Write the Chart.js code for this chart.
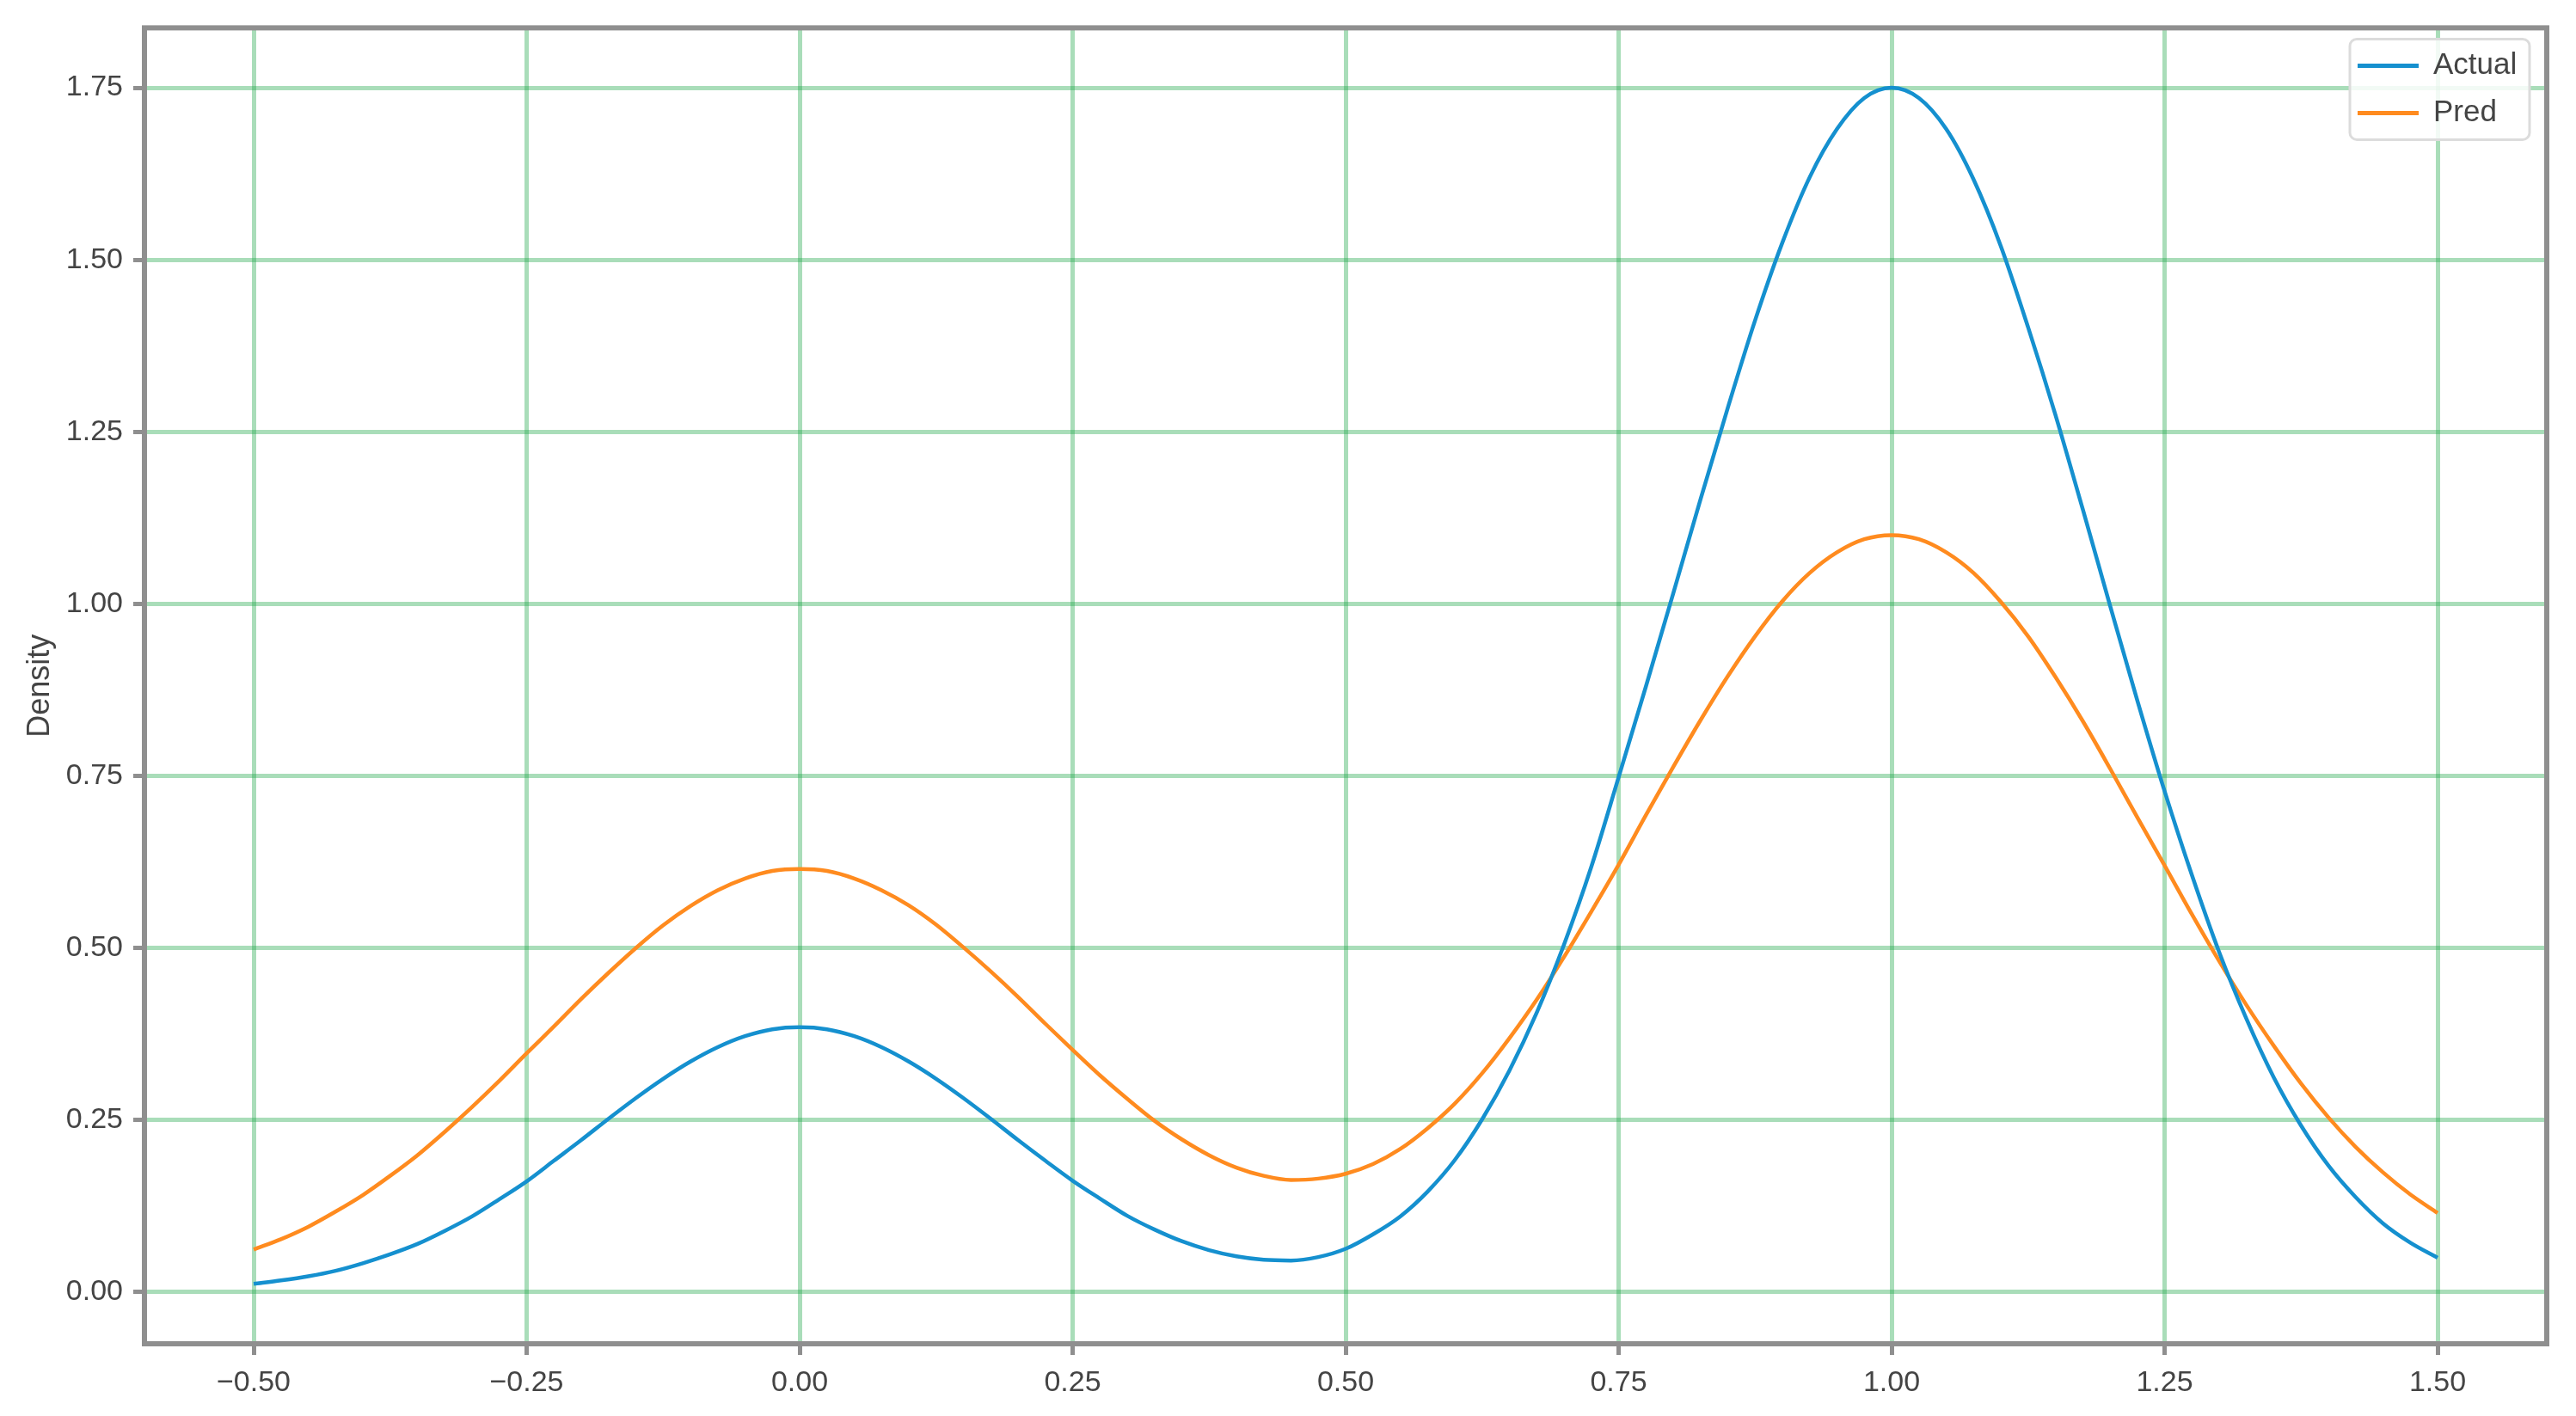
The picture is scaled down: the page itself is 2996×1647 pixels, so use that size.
<!DOCTYPE html>
<html>
<head>
<meta charset="utf-8">
<title>Density</title>
<script src="https://cdn.jsdelivr.net/npm/chart.js@4"></script>
<style>
  html, body { margin: 0; padding: 0; background: #ffffff; }
  #chart { display: block; }
</style>
</head>
<body>
<canvas id="chart" width="2996" height="1647"></canvas>
<script>
// Values (x every 0.025)
const xValues = [
  -0.500, -0.475, -0.450, -0.425, -0.400, -0.375, -0.350, -0.325, -0.300, -0.275,
  -0.250, -0.225, -0.200, -0.175, -0.150, -0.125, -0.100, -0.075, -0.050, -0.025,
  0.000, 0.025, 0.050, 0.075, 0.100, 0.125, 0.150, 0.175, 0.200, 0.225,
  0.250, 0.275, 0.300, 0.325, 0.350, 0.375, 0.400, 0.425, 0.450, 0.475,
  0.500, 0.525, 0.550, 0.575, 0.600, 0.625, 0.650, 0.675, 0.700, 0.725,
  0.750, 0.775, 0.800, 0.825, 0.850, 0.875, 0.900, 0.925, 0.950, 0.975,
  1.000, 1.025, 1.050, 1.075, 1.100, 1.125, 1.150, 1.175, 1.200, 1.225,
  1.250, 1.275, 1.300, 1.325, 1.350, 1.375, 1.400, 1.425, 1.450, 1.475,
  1.500
];
const actualValues = [
  0.012, 0.017, 0.023, 0.031, 0.042, 0.055, 0.070, 0.089, 0.110, 0.135,
  0.161, 0.191, 0.221, 0.252, 0.282, 0.310, 0.335, 0.356, 0.372, 0.382,
  0.385, 0.382, 0.372, 0.356, 0.335, 0.310, 0.282, 0.252, 0.221, 0.191,
  0.162, 0.136, 0.111, 0.091, 0.074, 0.061, 0.052, 0.047, 0.046, 0.051,
  0.063, 0.084, 0.110, 0.146, 0.192, 0.251, 0.322, 0.406, 0.505, 0.618,
  0.748, 0.880, 1.015, 1.152, 1.285, 1.412, 1.525, 1.620, 1.690, 1.735,
  1.750, 1.735, 1.690, 1.617, 1.520, 1.402, 1.275, 1.138, 0.998, 0.860,
  0.728, 0.606, 0.494, 0.397, 0.312, 0.242, 0.184, 0.138, 0.100, 0.072,
  0.050
];
const predValues = [
  0.062, 0.077, 0.095, 0.117, 0.141, 0.169, 0.199, 0.233, 0.269, 0.307,
  0.347, 0.386, 0.426, 0.464, 0.500, 0.533, 0.561, 0.584, 0.601, 0.612,
  0.615, 0.612, 0.601, 0.584, 0.562, 0.534, 0.501, 0.466, 0.429, 0.390,
  0.352, 0.315, 0.281, 0.249, 0.222, 0.199, 0.181, 0.169, 0.163, 0.165,
  0.172, 0.186, 0.208, 0.238, 0.274, 0.318, 0.369, 0.425, 0.487, 0.553,
  0.621, 0.693, 0.763, 0.831, 0.895, 0.953, 1.004, 1.045, 1.075, 1.094,
  1.100, 1.094, 1.075, 1.045, 1.003, 0.953, 0.894, 0.830, 0.761, 0.690,
  0.620, 0.549, 0.481, 0.417, 0.358, 0.303, 0.254, 0.211, 0.174, 0.142,
  0.115
];
const seriesNames = ['Actual', 'Pred'];
const seriesColors = ['#1590cf', '#ff8b1f'];

const xTicks = [-0.5, -0.25, 0, 0.25, 0.5, 0.75, 1, 1.25, 1.5];
const xTickLabels = ['\u22120.50', '\u22120.25', '0.00', '0.25', '0.50', '0.75', '1.00', '1.25', '1.50'];
const yTicks = [0, 0.25, 0.5, 0.75, 1, 1.25, 1.5, 1.75];
const yTickLabels = ['0.00', '0.25', '0.50', '0.75', '1.00', '1.25', '1.50', '1.75'];
const yTitle = 'Density';

const fontFamily = "'Liberation Sans', Arial, sans-serif";
const textColor = '#444444';
const spineColor = '#8f8f8f';
const gridColor = 'rgba(30, 165, 70, 0.38)';

function toPoints(ys) {
  return xValues.map((x, i) => ({ x: x, y: ys[i] }));
}

// Matplotlib style frame round the plot area
const frame = {
  id: 'frame',
  afterDatasetsDraw(chart) {
    const { ctx, chartArea } = chart;
    ctx.save();
    ctx.strokeStyle = spineColor;
    ctx.lineWidth = 6;
    ctx.strokeRect(chartArea.left, chartArea.top,
      chartArea.right - chartArea.left, chartArea.bottom - chartArea.top);
    ctx.restore();
  }
};

// Legend in the upper right corner, inside the axes
const innerLegend = {
  id: 'innerLegend',
  afterDraw(chart) {
    const { ctx, chartArea } = chart;
    const boxW = 209;
    const boxH = 117;
    const left = chartArea.right - 20 - boxW;
    const top = chartArea.top + 13;
    ctx.save();
    ctx.beginPath();
    ctx.roundRect(left, top, boxW, boxH, 8);
    ctx.fillStyle = 'rgba(255, 255, 255, 0.85)';
    ctx.fill();
    ctx.strokeStyle = '#dcdcdc';
    ctx.lineWidth = 3;
    ctx.stroke();

    ctx.font = '35px ' + fontFamily;
    ctx.textBaseline = 'middle';
    ctx.textAlign = 'left';
    chart.data.datasets.forEach((ds, i) => {
      const y = top + 31 + i * 55;
      ctx.strokeStyle = ds.borderColor;
      ctx.lineWidth = 5;
      ctx.beginPath();
      ctx.moveTo(left + 9, y);
      ctx.lineTo(left + 80, y);
      ctx.stroke();
      ctx.fillStyle = textColor;
      ctx.fillText(ds.label, left + 97, y);
    });
    ctx.restore();
  }
};

const ctx = document.getElementById('chart').getContext('2d');
new Chart(ctx, {
  type: 'line',
  data: {
    datasets: [
      {
        label: seriesNames[0],
        data: toPoints(actualValues),
        borderColor: seriesColors[0],
        borderWidth: 4.5,
        pointRadius: 0,
        fill: false,
        cubicInterpolationMode: 'monotone',
      },
      {
        label: seriesNames[1],
        data: toPoints(predValues),
        borderColor: seriesColors[1],
        borderWidth: 4.5,
        pointRadius: 0,
        fill: false,
        cubicInterpolationMode: 'monotone',
      },
    ],
  },
  options: {
    responsive: false,
    animation: false,
    layout: { padding: { top: 27, right: 34, left: 0, bottom: 0 } },
    plugins: {
      legend: { display: false },
      tooltip: { enabled: false },
    },
    scales: {
      x: {
        type: 'linear',
        min: -0.6,
        max: 1.6,
        afterBuildTicks: (scale) => {
          scale.ticks = xTicks.map((v) => ({ value: v }));
        },
        afterFit: (scale) => {
          scale.height = 84;
        },
        ticks: {
          autoSkip: false,
          maxRotation: 0,
          padding: 12,
          color: textColor,
          font: { family: fontFamily, size: 34 },
          callback: (value, index) => xTickLabels[index],
        },
        grid: {
          color: gridColor,
          lineWidth: 5,
          tickColor: spineColor,
          tickWidth: 5,
          tickLength: 13,
        },
        border: { display: false },
      },
      y: {
        type: 'linear',
        min: -0.075,
        max: 1.837,
        afterBuildTicks: (scale) => {
          scale.ticks = yTicks.map((v) => ({ value: v }));
        },
        afterFit: (scale) => {
          scale.width = 168;
        },
        ticks: {
          autoSkip: false,
          padding: 12,
          color: textColor,
          font: { family: fontFamily, size: 34 },
          callback: (value, index) => yTickLabels[index],
        },
        grid: {
          color: gridColor,
          lineWidth: 5,
          tickColor: spineColor,
          tickWidth: 5,
          tickLength: 13,
        },
        border: { display: false },
        title: {
          display: true,
          text: yTitle,
          color: textColor,
          font: { family: fontFamily, size: 36 },
          padding: { top: 25, bottom: 0 },
        },
      },
    },
  },
  plugins: [frame, innerLegend],
});
</script>
</body>
</html>
